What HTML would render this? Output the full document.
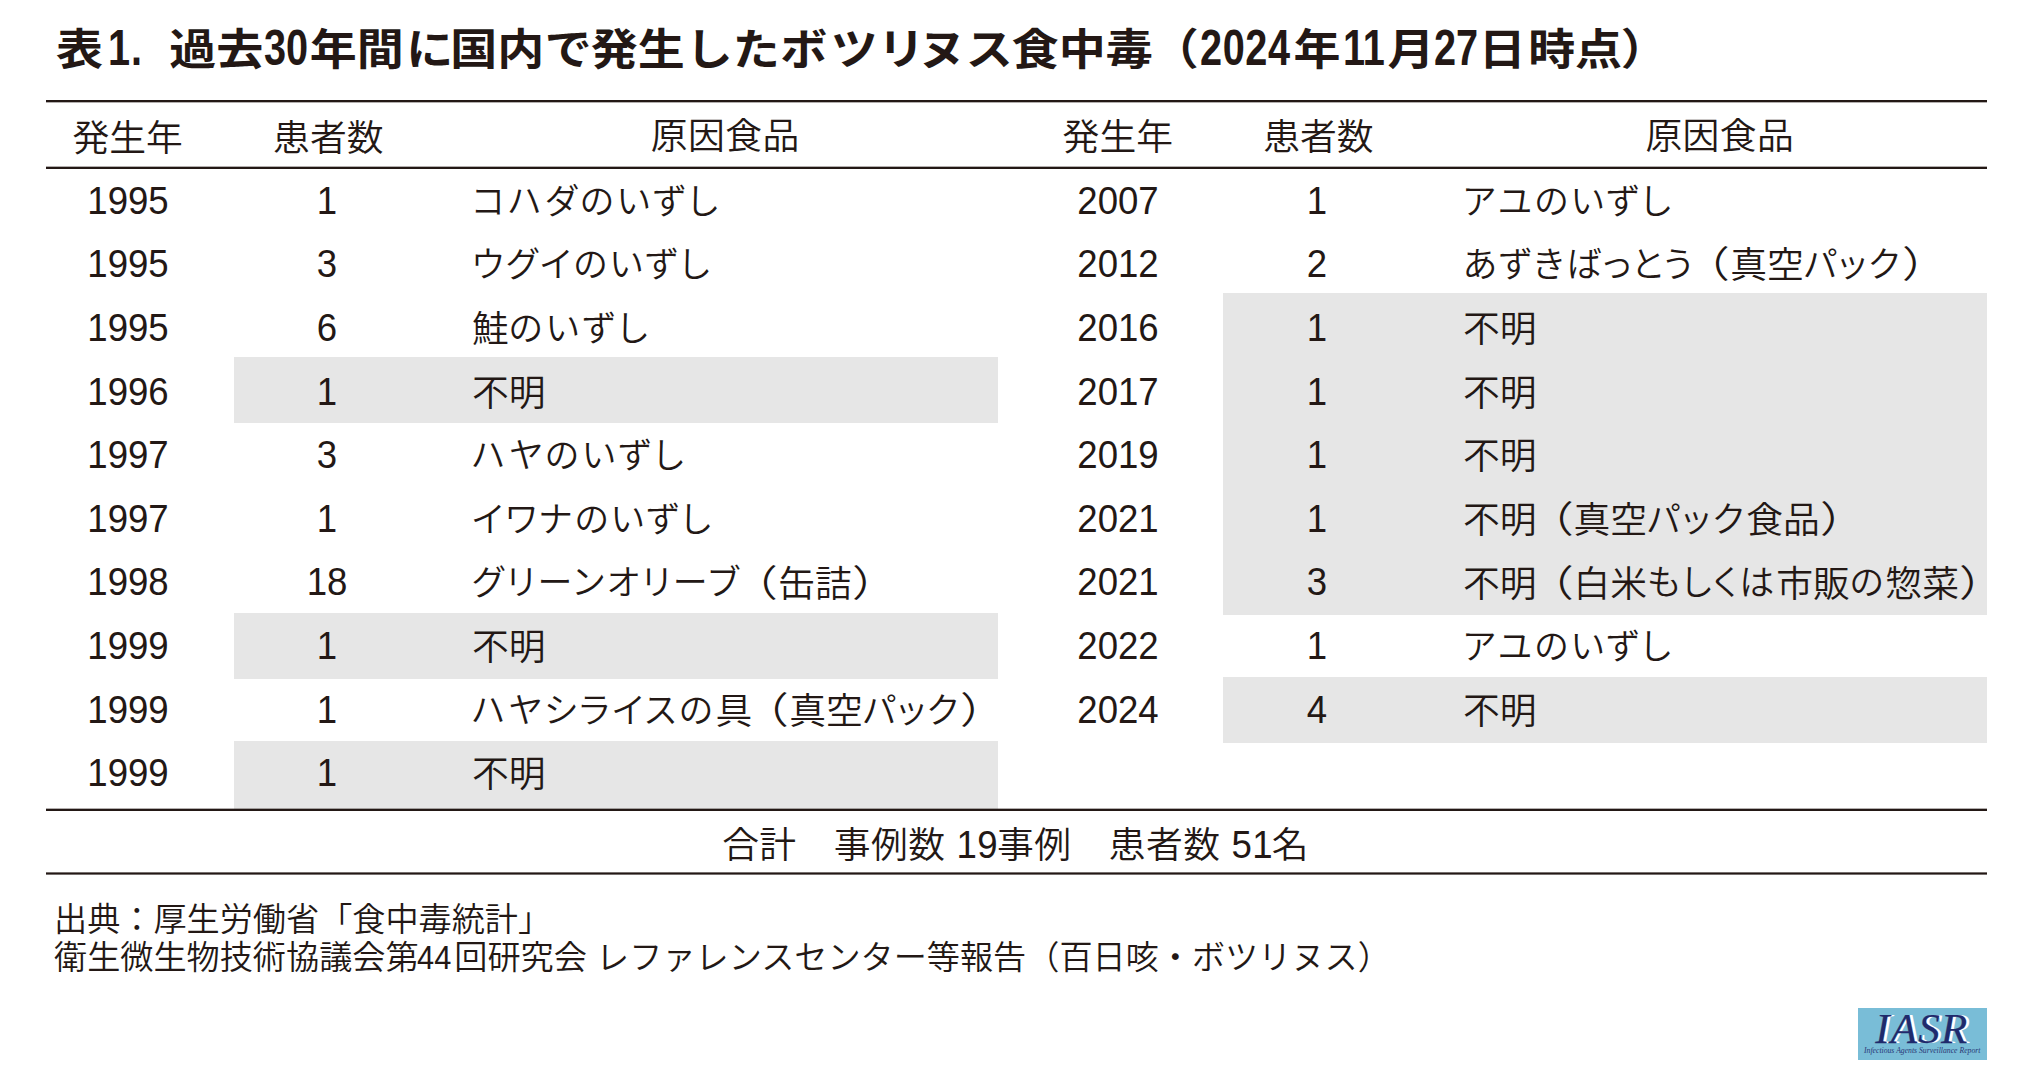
<!DOCTYPE html>
<html lang="ja">
<head>
<meta charset="utf-8">
<title>表1. 過去30年間に国内で発生したボツリヌス食中毒</title>
<style>
html,body{margin:0;padding:0;background:#fff;}
body{position:relative;width:2034px;height:1080px;overflow:hidden;color:#231815;
 font-family:"Liberation Sans","Noto Sans CJK JP",sans-serif;font-kerning:normal;font-weight:350;}
.abs{position:absolute;white-space:nowrap;line-height:0;transform:translateY(-0.3465em);}
i{font-style:normal;font-feature-settings:"palt" 1;font-size:0.95em;letter-spacing:2.5px;position:relative;top:-1.2px;}
#title{position:absolute;white-space:nowrap;line-height:0;font-size:47px;font-weight:bold;transform:scaleY(0.92);}
#title span{display:inline-block;line-height:0;}
#title .n{display:inline-block;line-height:0;font-size:53.4px;transform:scaleX(0.743);transform-origin:0 50%;}
i i.t{font-size:1em;letter-spacing:0.9px;top:0;}
.fd{display:inline-block;line-height:0;transform:scaleX(0.93);transform-origin:0 50%;width:1.034em;margin:0 3px 0 -1.5px;}
#logo{position:absolute;left:1857.8px;top:1008px;width:129.2px;height:51.8px;background:#79bdd7;font-family:"Liberation Serif",serif;font-style:italic;color:#1f2a6c;white-space:nowrap;}
.lg1{position:absolute;left:17.5px;top:-1.5px;font-size:43px;line-height:1;letter-spacing:1.2px;-webkit-text-stroke:0.25px #1f2a6c;text-shadow:3px 0.4px 0 #fff;}
.lg2{position:absolute;left:6px;top:37.6px;font-size:9.2px;line-height:1;transform-origin:0 0;transform:scaleX(0.838);opacity:0.9;}
.rule{position:absolute;left:46px;width:1941px;height:3px;}
.ra{background:linear-gradient(to bottom,#231815 0,#231815 2px,rgba(35,24,21,.35) 2px,rgba(35,24,21,.35) 3px);}
.rb{background:linear-gradient(to bottom,rgba(35,24,21,.35) 0,rgba(35,24,21,.35) 1px,#231815 1px,#231815 3px);}
.rc{background:linear-gradient(to bottom,rgba(35,24,21,.62) 0,rgba(35,24,21,.62) 1px,#231815 1px,#231815 2px,rgba(35,24,21,.62) 2px,rgba(35,24,21,.62) 3px);}
.g{position:absolute;background:#e6e6e6;}
.r{position:absolute;left:0;width:2034px;height:0;line-height:0;font-size:36.8px;white-space:nowrap;}
.r span{position:absolute;top:0;line-height:0;transform:translateY(-0.3465em);}
.r span.c{transform:translate(-50%,-0.3465em) scaleX(0.929);}
.r span.f{top:2.1px;}
.pl,.pr{display:inline-block;font-weight:inherit;line-height:0;transform:scaleX(1.25);transform-origin:100% 50%;}
.pr{transform-origin:0 50%;}
.d{font-size:39.4px;}
.h .d{display:inline-block;line-height:0;transform:scaleX(0.929);transform-origin:0 50%;width:1.033em;}
.h{position:absolute;line-height:0;font-size:36.8px;white-space:nowrap;transform:translate(-50%,-0.3465em);letter-spacing:0.4px;}
</style>
</head>
<body>
<div id="title" style="left:56.0px;top:46.51px;transform-origin:0 16.29px;"><span id="t0">表</span><b id="t1" class="n" style="margin-left:4.5px;width:0.413em">1</b><b id="t1b" class="n" style="margin-left:1.6px;width:0.207em">.</b> <span id="t2" style="margin-left:13.9px">過去</span><b id="t3" class="n" style="margin-left:0.5px;width:0.826em">30</b><span id="t4" style="margin-left:2.0px">年間</span><span id="t5" style="margin-left:2.5px">に</span><span id="t6" style="margin-left:-3.0px">国内</span><span id="t7" style="margin-left:0.5px">で</span><span id="t8" style="margin-left:-1.0px">発生</span><span id="t9" style="margin-left:1.0px">した</span><span id="t10" style="margin-left:0.5px">ボ</span><span id="t11" style="margin-left:3.5px">ツリ</span><span id="t12" style="margin-left:-6.0px">ヌス</span><span id="t13" style="margin-left:-1.0px">食中毒</span><span id="t14" style="margin-left:-1.0px">（</span><b id="t15" class="n" style="margin-left:1.5px;width:1.652em;letter-spacing:0.8px">2024</b><span id="t16" style="margin-left:5.0px">年</span><b id="t17" class="n" style="margin-left:3.0px;width:0.826em">11</b><span id="t18">月</span><b id="t19" class="n" style="margin-left:-1.0px;width:0.826em">27</b><span id="t20" style="margin-left:1.0px">日</span><span id="t21" style="margin-left:2.5px">時点</span><span id="t22" style="margin-left:-1.5px">）</span></div>
<div class="rule ra" style="top:100px"></div>
<div class="h" style="left:127.7px;top:151.8px;letter-spacing:0">発生年</div>
<div class="h" style="left:328.3px;top:151.8px;letter-spacing:0">患者数</div>
<div class="h" style="left:725.2px;top:150.2px">原因食品</div>
<div class="h" style="left:1117.8px;top:151px;letter-spacing:0">発生年</div>
<div class="h" style="left:1318.4px;top:151px;letter-spacing:0">患者数</div>
<div class="h" style="left:1719.8px;top:150.2px">原因食品</div>
<div class="rule rb" style="top:166px"></div>
<div class="g" style="left:234.25px;top:357.00px;width:763.75px;height:66px"></div>
<div class="g" style="left:234.25px;top:612.68px;width:763.75px;height:66px"></div>
<div class="g" style="left:234.25px;top:740.52px;width:763.75px;height:69px"></div>
<div class="r" id="L1" style="top:213.75px"><span class="c d" style="left:128px">1995</span><span class="c d" style="left:327px">1</span><span class="f" style="left:472px"><i style="letter-spacing:3.1px">コハダのいずし</i></span></div>
<div class="r" id="L2" style="top:277.37px"><span class="c d" style="left:128px">1995</span><span class="c d" style="left:327px">3</span><span class="f" style="left:472px"><i>ウグイのいずし</i></span></div>
<div class="r" id="L3" style="top:340.99px"><span class="c d" style="left:128px">1995</span><span class="c d" style="left:327px">6</span><span class="f" style="left:472px">鮭<i style="letter-spacing:3.4px">のいずし</i></span></div>
<div class="r" id="L4" style="top:404.61px"><span class="c d" style="left:128px">1996</span><span class="c d" style="left:327px">1</span><span class="f" style="left:472px">不明</span></div>
<div class="r" id="L5" style="top:468.23px"><span class="c d" style="left:128px">1997</span><span class="c d" style="left:327px">3</span><span class="f" style="left:472px"><i style="letter-spacing:3.3px">ハヤのいずし</i></span></div>
<div class="r" id="L6" style="top:531.85px"><span class="c d" style="left:128px">1997</span><span class="c d" style="left:327px">1</span><span class="f" style="left:472px"><i>イワナのいずし</i></span></div>
<div class="r" id="L7" style="top:595.47px"><span class="c d" style="left:128px">1998</span><span class="c d" style="left:327px">18</span><span class="f" style="left:472px"><i style="letter-spacing:2.7px">グリーンオリーブ</i><b class="pl">（</b>缶詰<b class="pr">）</b></span></div>
<div class="r" id="L8" style="top:659.09px"><span class="c d" style="left:128px">1999</span><span class="c d" style="left:327px">1</span><span class="f" style="left:472px">不明</span></div>
<div class="r" id="L9" style="top:722.71px"><span class="c d" style="left:128px">1999</span><span class="c d" style="left:327px">1</span><span class="f" style="left:472px"><i style="letter-spacing:2.8px">ハヤシライスの</i>具<b class="pl">（</b>真空<i style="letter-spacing:1.8px">パック</i><b class="pr">）</b></span></div>
<div class="r" id="L10" style="top:786.33px"><span class="c d" style="left:128px">1999</span><span class="c d" style="left:327px">1</span><span class="f" style="left:472px">不明</span></div>
<div class="g" style="left:1223.25px;top:293.08px;width:763.55px;height:66px"></div>
<div class="g" style="left:1223.25px;top:357.00px;width:763.55px;height:66px"></div>
<div class="g" style="left:1223.25px;top:420.92px;width:763.55px;height:66px"></div>
<div class="g" style="left:1223.25px;top:484.84px;width:763.55px;height:66px"></div>
<div class="g" style="left:1223.25px;top:548.76px;width:763.55px;height:66px"></div>
<div class="g" style="left:1223.25px;top:676.60px;width:763.55px;height:66px"></div>
<div class="r" id="R1" style="top:213.75px"><span class="c d" style="left:1117.5px">2007</span><span class="c d" style="left:1317px">1</span><span class="f" style="left:1463px"><i>アユのいずし</i></span></div>
<div class="r" id="R2" style="top:277.37px"><span class="c d" style="left:1117.5px">2012</span><span class="c d" style="left:1317px">2</span><span class="f" style="left:1463px"><i style="letter-spacing:2px">あずきば<i class="t">っとう</i></i><b class="pl">（</b>真空<i style="letter-spacing:2px">パック</i><b class="pr">）</b></span></div>
<div class="r" id="R3" style="top:340.99px"><span class="c d" style="left:1117.5px">2016</span><span class="c d" style="left:1317px">1</span><span class="f" style="left:1463px">不明</span></div>
<div class="r" id="R4" style="top:404.61px"><span class="c d" style="left:1117.5px">2017</span><span class="c d" style="left:1317px">1</span><span class="f" style="left:1463px">不明</span></div>
<div class="r" id="R5" style="top:468.23px"><span class="c d" style="left:1117.5px">2019</span><span class="c d" style="left:1317px">1</span><span class="f" style="left:1463px">不明</span></div>
<div class="r" id="R6" style="top:531.85px"><span class="c d" style="left:1117.5px">2021</span><span class="c d" style="left:1317px">1</span><span class="f" style="left:1463px">不明<b class="pl">（</b>真空<i>パック</i>食品<b class="pr">）</b></span></div>
<div class="r" id="R7" style="top:595.47px"><span class="c d" style="left:1117.5px">2021</span><span class="c d" style="left:1317px">3</span><span class="f" style="left:1463px">不明<b class="pl">（</b>白米<i style="letter-spacing:1.9px">もしくは</i>市販<i style="letter-spacing:1.9px">の</i>惣菜<b class="pr">）</b></span></div>
<div class="r" id="R8" style="top:659.09px"><span class="c d" style="left:1117.5px">2022</span><span class="c d" style="left:1317px">1</span><span class="f" style="left:1463px"><i>アユのいずし</i></span></div>
<div class="r" id="R9" style="top:722.71px"><span class="c d" style="left:1117.5px">2024</span><span class="c d" style="left:1317px">4</span><span class="f" style="left:1463px">不明</span></div>
<div class="rule rb" style="top:808px"></div>
<div class="h" id="total" style="left:1015.6px;top:857px;letter-spacing:0.45px">合計　事例数 <span class="d">19</span>事例　患者数 <span class="d">51</span>名</div>
<div class="rule rc" style="top:872px"></div>
<div class="abs" id="f1" style="left:54px;top:931px;font-size:33.15px">出典：厚生労働省「食中毒統計」</div>
<div class="abs" id="f2" style="left:54px;top:969px;font-size:33.15px">衛生微生物技術協議会第<span class="fd">44</span>回研究会 レファレンスセンター等報告（百日咳・ボツリヌス）</div>
<div id="logo"><div class="lg1">IASR</div><div class="lg2">Infectious Agents Surveillance Report</div></div>
</body>
</html>
